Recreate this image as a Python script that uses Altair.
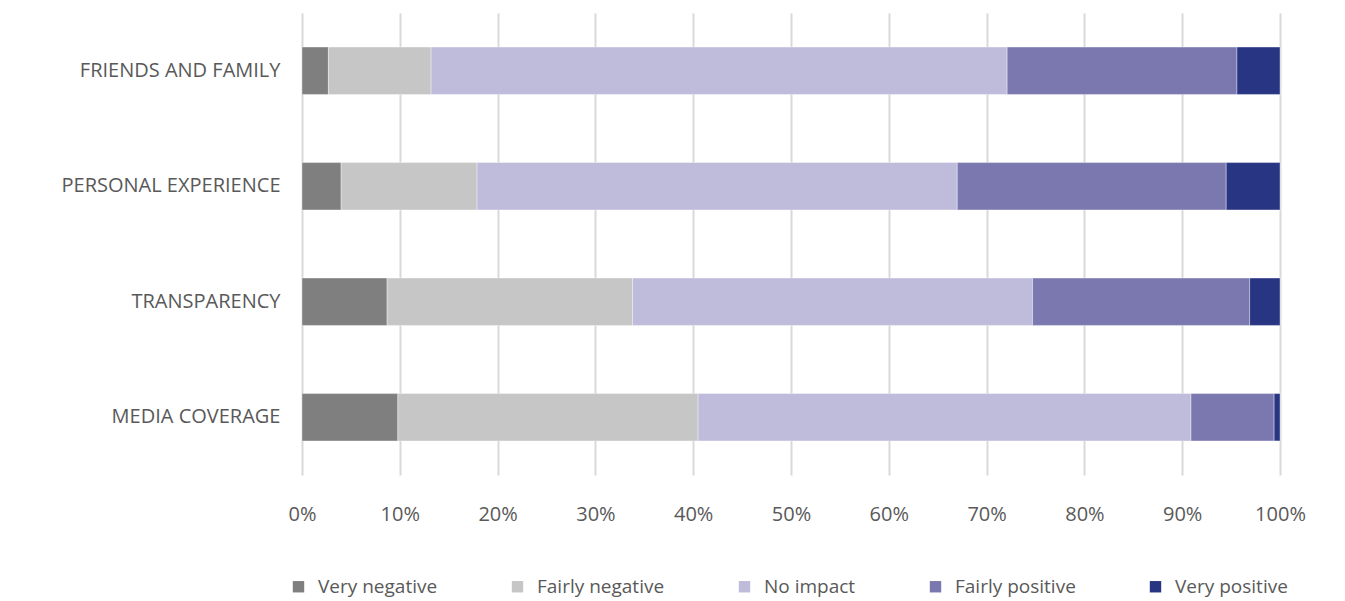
import altair as alt
import pandas as pd

categories = ["FRIENDS AND FAMILY", "PERSONAL EXPERIENCE", "TRANSPARENCY", "MEDIA COVERAGE"]
series = ["Very negative", "Fairly negative", "No impact", "Fairly positive", "Very positive"]
colors = ["#7f7f7f", "#c6c6c6", "#bebbdb", "#7b78b0", "#283582"]

very_negative = [2.7, 4.0, 8.7, 9.8]
fairly_negative = [10.5, 13.9, 25.1, 30.7]
no_impact = [58.9, 49.1, 40.9, 50.4]
fairly_positive = [23.5, 27.5, 22.2, 8.5]
very_positive = [4.4, 5.5, 3.1, 0.6]

values = [very_negative, fairly_negative, no_impact, fairly_positive, very_positive]
rows = []
for si, s in enumerate(series):
    for ci, c in enumerate(categories):
        rows.append({"category": c, "series": s, "order": si, "value": values[si][ci] / 100.0})
df = pd.DataFrame(rows)

FONT = "Open Sans"
TXT = "#595959"

chart = alt.Chart(df).mark_bar(stroke="white", strokeWidth=0.6, strokeOpacity=0.6).encode(
    y=alt.Y("category:N", sort=categories, title=None,
            scale=alt.Scale(paddingInner=0.59, paddingOuter=0.295),
            axis=alt.Axis(labelFont=FONT, labelFontSize=20, labelColor=TXT, labelPadding=22,
                          labelLimit=400, ticks=False, domain=False, grid=False)),
    x=alt.X("value:Q", stack="zero", title=None,
            scale=alt.Scale(domain=[0, 1], nice=False),
            axis=alt.Axis(format=".0%", values=[i / 10 for i in range(11)],
                          labelFont=FONT, labelFontSize=20, labelColor=TXT, labelPadding=29,
                          labelFlush=False,
                          ticks=False, domain=False, grid=True, gridColor="#d9d9d9", gridWidth=2)),
    color=alt.Color("series:N", sort=series,
                    scale=alt.Scale(domain=series, range=colors),
                    legend=alt.Legend(title=None, orient="none", direction="horizontal",
                                      legendX=-13, legendY=564, columns=5, columnPadding=70,
                                      symbolType="square", symbolSize=130, symbolStrokeWidth=0,
                                      labelFont=FONT, labelFontSize=19, labelColor=TXT,
                                      labelOffset=10, labelLimit=300)),
    order=alt.Order("order:Q", sort="ascending"),
).properties(
    width=978, height=462,
    autosize=alt.AutoSizeParams(type="none"),
    padding={"left": 302, "top": 13, "right": 65, "bottom": 126},
).configure(background="white").configure_view(stroke=None)

chart.save("out.html", embed_options={"renderer": "svg", "actions": False})
